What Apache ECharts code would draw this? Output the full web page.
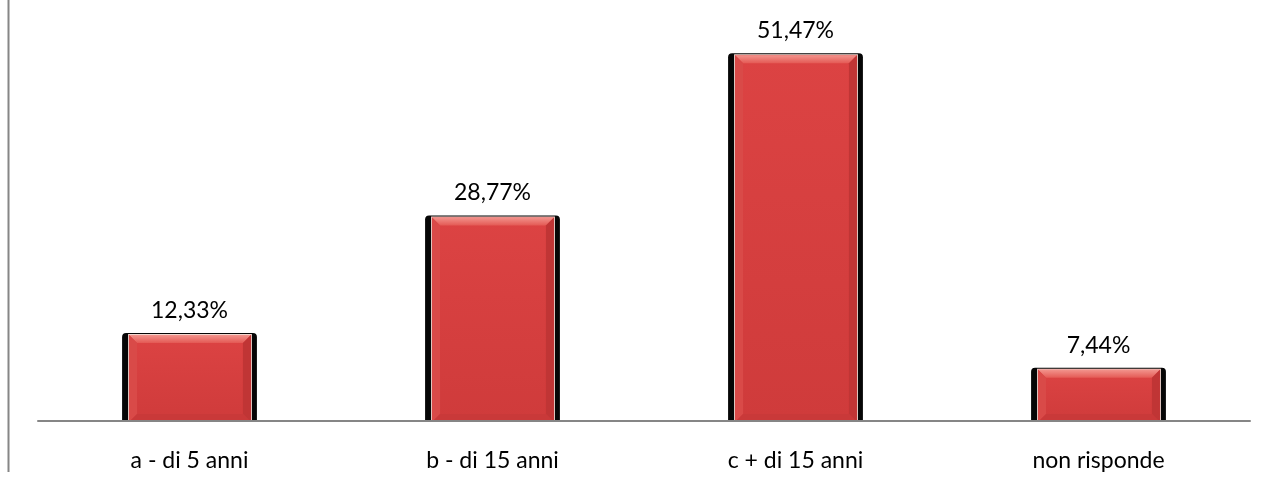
<!DOCTYPE html>
<html>
<head>
<meta charset="utf-8">
<script src="https://cdn.jsdelivr.net/npm/echarts@6/dist/echarts.min.js"></script>
<style>
  html, body { margin: 0; padding: 0; background: #fff; }
  #chart { width: 1271px; height: 482px; }
</style>
</head>
<body>
<div id="chart"></div>
<script>
// Risposte per fascia d'anzianità (percentuali)
const categories = ['a - di 5 anni', 'b - di 15 anni', 'c + di 15 anni', 'non risponde'];
const percentuali = [12.33, 28.77, 51.47, 7.44];

const fmt = v => v.toFixed(2).replace('.', ',') + '%';
const FONT_FAMILY = 'Lato, "Open Sans", sans-serif';
const FONT_SIZE = 23;

// Bevelled bar: dark frame, red body, lighter top/left bevels, darker right/bottom bevels
function renderBar(params, api) {
  const idx = api.value(0);
  const v = api.value(1);
  const top = api.coord([idx, v]);
  const base = api.coord([idx, 0]);
  const band = api.size([1, 0])[0];
  const w = band * 0.445;
  const x0 = top[0] - w / 2;
  const y0 = top[1];
  const yb = base[1] + 1;

  const xi = x0 + 7;
  const wi = w - 13;
  const yi = y0 + 2;
  const xr = xi + wi;
  const b = Math.min(8, (yb - yi) / 3);

  return {
    type: 'group',
    children: [
      {
        type: 'rect',
        shape: { x: x0, y: y0, width: w, height: yb - y0, r: [4, 4, 0, 0] },
        style: { fill: '#060606' }
      },
      {
        type: 'rect',
        shape: { x: xi - 1, y: yi - 1, width: wi + 2, height: yb - yi + 1 },
        style: { fill: '#f3d6cf' }
      },
      {
        type: 'rect',
        shape: { x: xi, y: yi, width: wi, height: yb - yi },
        style: {
          fill: {
            type: 'linear', x: 0, y: 0, x2: 0, y2: 1,
            colorStops: [
              { offset: 0, color: '#dc4343' },
              { offset: 1, color: '#cf3b3b' }
            ]
          }
        }
      },
      {
        type: 'polygon',
        shape: { points: [[xi, yi], [xr, yi], [xr - b, yi + b], [xi + b, yi + b]] },
        style: {
          fill: {
            type: 'linear', x: 0, y: 0, x2: 0, y2: 1,
            colorStops: [
              { offset: 0, color: '#f2938c' },
              { offset: 1, color: '#e45a55' }
            ]
          }
        }
      },
      {
        type: 'polygon',
        shape: { points: [[xi, yi], [xi + b, yi + b], [xi + b, yb - b], [xi, yb]] },
        style: { fill: '#d94a48' }
      },
      {
        type: 'polygon',
        shape: { points: [[xr, yi], [xr - b, yi + b], [xr - b, yb - b], [xr, yb]] },
        style: { fill: '#c03535' }
      },
      {
        type: 'polygon',
        shape: { points: [[xi, yb], [xi + b, yb - b], [xr - b, yb - b], [xr, yb]] },
        style: { fill: '#c93939' }
      },
      {
        type: 'text',
        x: top[0],
        y: y0 - 11,
        style: {
          text: fmt(v),
          align: 'center',
          verticalAlign: 'bottom',
          fill: '#000',
          fontFamily: FONT_FAMILY,
          fontSize: FONT_SIZE
        }
      }
    ]
  };
}

const chart = echarts.init(document.getElementById('chart'), null, { renderer: 'canvas' });
chart.setOption({
  animation: false,
  backgroundColor: '#ffffff',
  grid: { left: 38, right: 21, top: 28, bottom: 61, containLabel: false },
  xAxis: {
    type: 'category',
    data: categories,
    z: 5,
    axisLine: { show: true, lineStyle: { color: '#868686', width: 2 } },
    axisTick: { show: false },
    axisLabel: { color: '#000', fontFamily: FONT_FAMILY, fontSize: FONT_SIZE, margin: 28 }
  },
  yAxis: {
    type: 'value', min: 0, max: 55,
    show: false
  },
  series: [
    {
      type: 'custom',
      renderItem: renderBar,
      data: percentuali.map((v, i) => [i, v]),
      encode: { x: 0, y: 1 },
      clip: false
    }
  ],
  graphic: [
    {
      type: 'line',
      shape: { x1: 8.5, y1: 0, x2: 8.5, y2: 472 },
      style: { stroke: '#868686', lineWidth: 2 }
    }
  ]
});
</script>
</body>
</html>
